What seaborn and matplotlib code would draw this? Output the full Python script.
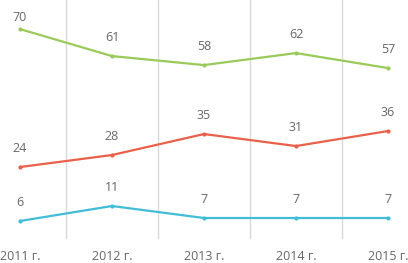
import matplotlib
matplotlib.use("Agg")
import matplotlib.pyplot as plt
import seaborn as sns
import pandas as pd

years = ["2011 г.", "2012 г.", "2013 г.", "2014 г.", "2015 г."]
series_green = [70, 61, 58, 62, 57]
series_red = [24, 28, 35, 31, 36]
series_blue = [6, 11, 7, 7, 7]

colors = {"green": "#9ACA5A", "red": "#E9604B", "blue": "#41BDD7"}

rows = []
for name, vals in [("green", series_green), ("red", series_red), ("blue", series_blue)]:
    for i, v in enumerate(vals):
        rows.append({"x": i, "value": v, "series": name})
df = pd.DataFrame(rows)

sns.set_style("white")
plt.rcParams["font.family"] = ["Open Sans", "DejaVu Sans"]

fig = plt.figure(figsize=(4.08, 2.63), dpi=100)
ax = fig.add_axes([0, 24 / 263, 1, 239 / 263])

sns.lineplot(data=df, x="x", y="value", hue="series", palette=colors,
             marker="o", markersize=3, markeredgewidth=0, linewidth=1.6,
             legend=False, ax=ax)

ytop = 79.7
ax.set_ylim(0, ytop)
for name, vals in [("green", series_green), ("red", series_red), ("blue", series_blue)]:
    for i, v in enumerate(vals):
        ly = min(v + 6.3, ytop - 6)
        ax.text(i, ly, str(v), ha="center", va="center",
                fontsize=9, color="#666666")

ax.set_xlim(-0.217, 4.217)
ax.set_xticks(range(len(years)))
ax.set_xticklabels(years, fontsize=9, color="#666666")
ax.set_xticks([0.5, 1.5, 2.5, 3.5], minor=True)
ax.grid(False)
ax.grid(True, which="minor", axis="x", color="#D9D9D9", linewidth=1)
ax.tick_params(axis="x", which="both", length=0, pad=8)
ax.set_yticks([])
ax.set_xlabel("")
ax.set_ylabel("")
for s in ax.spines.values():
    s.set_visible(False)

fig.savefig("out.png", dpi=100)
